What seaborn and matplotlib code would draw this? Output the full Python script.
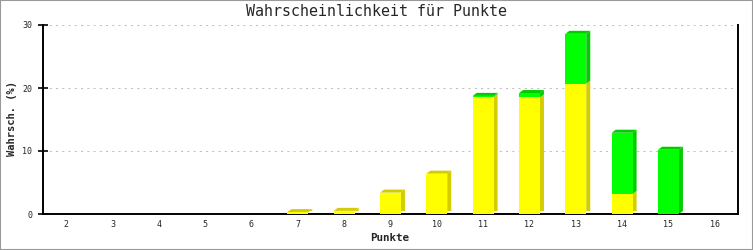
import matplotlib
matplotlib.use("Agg")
import numpy as np
import pandas as pd
import seaborn as sns
import matplotlib.pyplot as plt
from matplotlib.patches import Polygon, Rectangle
from matplotlib.transforms import IdentityTransform

# ---- data ----
punkte = ["2", "3", "4", "5", "6", "7", "8", "9", "10", "11", "12", "13", "14", "15", "16"]
gelb = [0, 0, 0, 0, 0, 0.3, 0.5, 3.4, 6.4, 18.6, 18.5, 20.7, 3.2, 0, 0]
gruen = [0, 0, 0, 0, 0, 0, 0, 0, 0, 0.15, 0.7, 7.9, 9.7, 10.2, 0]
y_ticks = [0, 10, 20, 30]

title = "Wahrscheinlichkeit für Punkte"
xlabel = "Punkte"
ylabel = "Wahrsch. (%)"

YELLOW, YELLOW_D = "#ffff00", "#d2cc00"
GREEN, GREEN_D = "#00ff00", "#00cc00"

sns.set_style("white")
plt.rcParams["font.family"] = ["DejaVu Sans Mono"]

W, H = 753, 250
fig = plt.figure(figsize=(W / 100, H / 100), dpi=100)
ax = fig.add_axes([43 / W, 36 / H, 695 / W, 189 / H])

total = [a + b for a, b in zip(gelb, gruen)]
df = pd.DataFrame({"punkte": punkte, "gelb": gelb, "total": total})

sns.barplot(data=df, x="punkte", y="total", order=punkte, color=GREEN, saturation=1,
            width=0.45, linewidth=0, ax=ax, zorder=3)
sns.barplot(data=df, x="punkte", y="gelb", order=punkte, color=YELLOW, saturation=1,
            width=0.45, linewidth=0, ax=ax, zorder=3)

ax.set_xlim(-0.5, len(punkte) - 0.5)
ax.set_ylim(0, 30)
ax.set_yticks(y_ticks)
ax.set_xlabel("")
ax.set_ylabel("")

# ---- 3D sides / tops derived from bar patches ----
dx, dy = 4, 3
T = ax.transData.transform
for i, bar in enumerate(ax.containers[0]):
    x0, w = bar.get_x(), bar.get_width()
    g, t = gelb[i], total[i]
    if t <= 0:
        continue
    px0, pb = T((x0, 0))
    px1, py = T((x0 + w, g))
    _, pt = T((x0 + w, t))
    polys = []
    if g > 0:
        polys.append(([(px1, pb + dy), (px1 + dx, pb + dy), (px1 + dx, py + dy), (px1, py)], YELLOW_D))
    if gruen[i] > 0:
        polys.append(([(px1, py), (px1 + dx, py + dy), (px1 + dx, pt + dy), (px1, pt)], GREEN_D))
    topc = GREEN_D if gruen[i] > 0 else YELLOW_D
    polys.append(([(px0, pt), (px0 + dx, pt + dy), (px1 + dx, pt + dy), (px1, pt)], topc))
    for verts, c in polys:
        ax.add_patch(Polygon(verts, closed=True, facecolor=c, edgecolor="none",
                             transform=IdentityTransform(), zorder=2, clip_on=False))

# ---- axes styling ----
ax.set_axisbelow(True)
ax.yaxis.grid(True, color="#c0c0c0", linewidth=0.75, linestyle=(0, (2, 4)))
ax.xaxis.grid(False)
for s in ["left", "bottom", "right"]:
    ax.spines[s].set_visible(True)
    ax.spines[s].set_color("black")
    ax.spines[s].set_linewidth(1.4)
ax.spines["top"].set_visible(False)
ax.tick_params(axis="y", direction="inout", length=7.2, width=1.4, pad=4, labelsize=6, left=True)
ax.tick_params(axis="x", length=0, pad=4, labelsize=6)

fig.text(0.5, 1 - 12 / H, title, ha="center", va="center", fontsize=10.8)
fig.text(390 / W, 1 - 238 / H, xlabel, ha="center", va="center", fontsize=7.8, fontweight="bold")
fig.text(12 / W, 1 - 118 / H, ylabel, ha="center", va="center", fontsize=7.5,
         fontweight="bold", rotation=90)

fig.patches.append(Rectangle((0, 0), 1, 1, transform=fig.transFigure, fill=False,
                             edgecolor="#999999", linewidth=1.5, zorder=10))

fig.savefig("out.png", dpi=100)
